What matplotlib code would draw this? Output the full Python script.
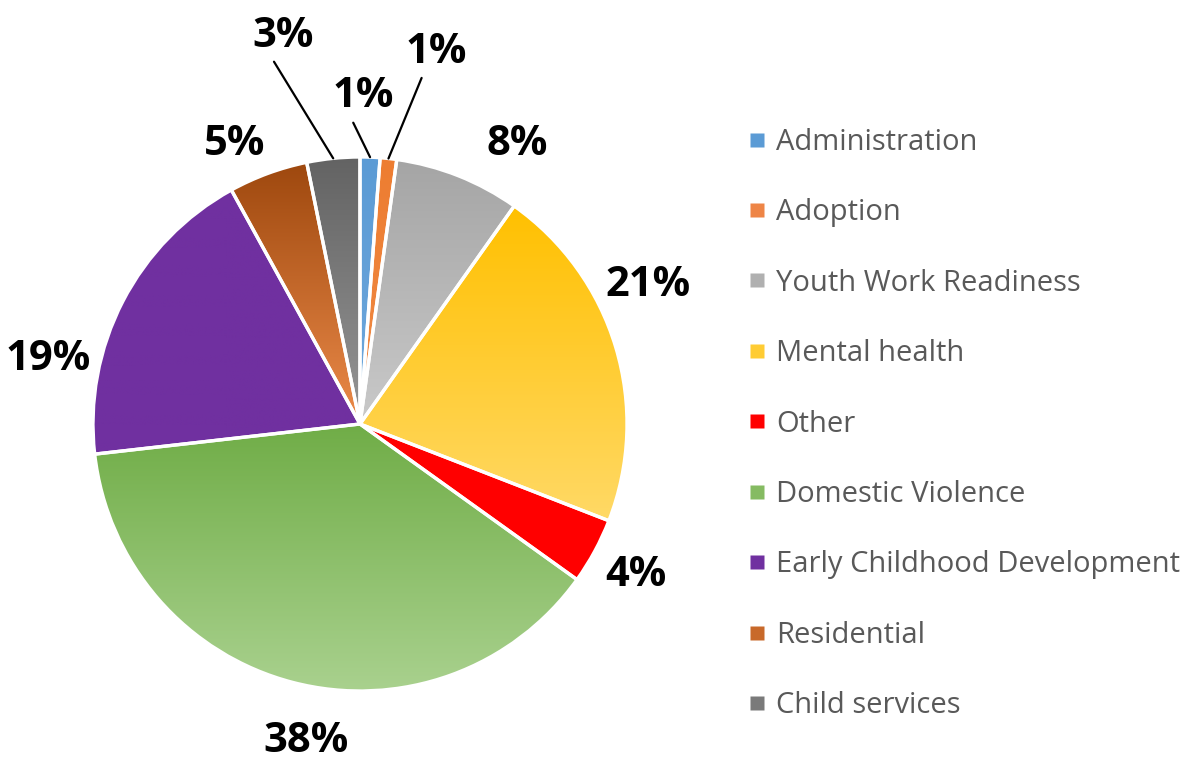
import numpy as np
import matplotlib
matplotlib.use('Agg')
import matplotlib.pyplot as plt
from matplotlib.colors import LinearSegmentedColormap
from matplotlib.lines import Line2D

# data
categories = ['Administration', 'Adoption', 'Youth Work Readiness', 'Mental health',
              'Other', 'Domestic Violence', 'Early Childhood Development',
              'Residential', 'Child services']
shares = [1.2, 1.0, 7.6, 21.1, 4.0, 38.3, 18.8, 4.8, 3.2]
top_colors = ['#5b9bd5', '#ed7d31', '#a5a5a5', '#ffc000', '#ff0000',
              '#70ad47', '#7030a0', '#9e480e', '#636363']
bottom_colors = ['#6fa8dc', '#f08a45', '#c9c9c9', '#ffd966', '#ff0000',
                 '#a9d18e', '#7030a0', '#ec8b4a', '#969696']
legend_colors = ['#5b9bd5', '#ee8546', '#b0b0b0', '#ffcc33', '#ff0000',
                 '#85bb62', '#7030a0', '#c8692a', '#7a7a7a']

# label positions (data coords, pie radius = 1) and whether a leader line is used
label_pos = [(0.011, 1.225), (0.285, 1.393), (0.588, 1.045), (1.079, 0.52),
             (1.034, -0.569), (-0.202, -1.19), (-1.169, 0.24),
             (-0.468, 1.045), (-0.288, 1.453)]
leader = [True, True, False, False, False, False, False, False, True]

W, H = 1183, 764
cx, cy, R = 360, 424, 267

fig = plt.figure(figsize=(W / 100, H / 100), dpi=100)
ax = fig.add_axes([(cx - R) / W, (H - cy - R) / H, 2 * R / W, 2 * R / H])
ax.set_xlim(-1, 1)
ax.set_ylim(-1, 1)
ax.set_aspect('equal')
ax.axis('off')

wedges, _ = ax.pie(shares, startangle=90, counterclock=False, radius=1,
                   wedgeprops=dict(facecolor='none', edgecolor='white',
                                   linewidth=2.4, zorder=3))

# gradient fill in each slice (top to bottom)
for w, c0, c1 in zip(wedges, top_colors, bottom_colors):
    ext = w.get_path().get_extents()
    cmap = LinearSegmentedColormap.from_list('g', [c0, c1])
    grad = np.linspace(0, 1, 256).reshape(-1, 1)
    im = ax.imshow(grad, cmap=cmap, aspect='auto', zorder=1,
                   extent=[ext.x0, ext.x1, ext.y0, ext.y1], origin='upper')
    im.set_clip_path(w)
ax.set_xlim(-1, 1)
ax.set_ylim(-1, 1)

# percentage labels
for w, v, (lx, ly), ld in zip(wedges, shares, label_pos, leader):
    txt = '%d%%' % round(v)
    if ld:
        mid = np.deg2rad((w.theta1 + w.theta2) / 2)
        ax.annotate(txt, xy=(np.cos(mid) * 1.0, np.sin(mid) * 1.0),
                    xytext=(lx, ly), ha='center', va='center',
                    fontsize=30, fontweight='bold', family='Open Sans',
                    arrowprops=dict(arrowstyle='-', color='black', lw=1.6,
                                    shrinkA=2, shrinkB=0, relpos=(0.3, 0)),
                    annotation_clip=False)
    else:
        ax.text(lx, ly, txt, ha='center', va='center', fontsize=30,
                fontweight='bold', family='Open Sans')

# legend
handles = [Line2D([], [], marker='s', linestyle='none', markersize=10,
                  markerfacecolor=c, markeredgecolor='none') for c in legend_colors]
fig.legend(handles, categories, loc='center left', bbox_to_anchor=(734 / W, 1 - 424 / H),
           frameon=False, labelcolor='#595959', labelspacing=1.42,
           handlelength=0.6, handletextpad=0.35, borderpad=0,
           prop={'family': 'Open Sans', 'size': 21})

fig.savefig('out.png', dpi=100)
